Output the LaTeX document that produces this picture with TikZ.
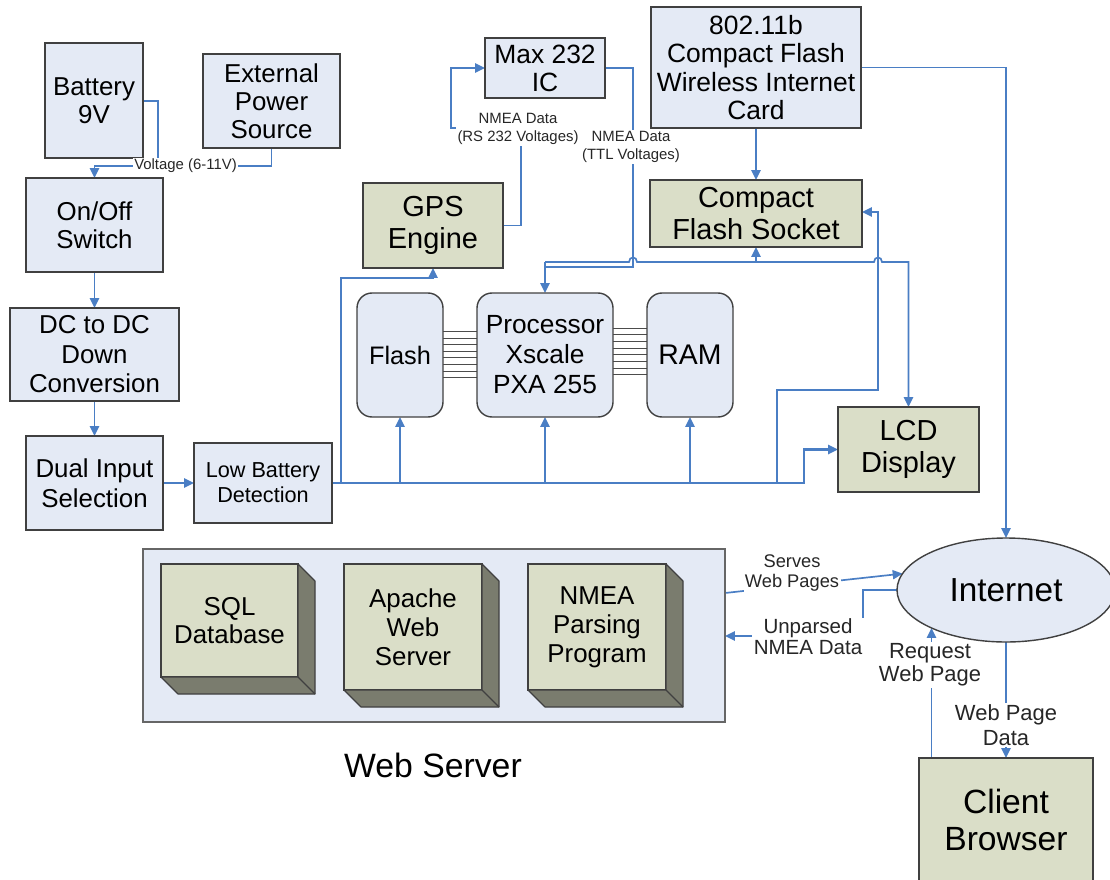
\documentclass[tikz,border=0pt]{standalone}
\usepackage{fontspec}
\setmainfont{Liberation Sans}
\usetikzlibrary{arrows.meta,shapes.geometric}
\definecolor{bluefill}{RGB}{228,234,245}
\definecolor{olivefill}{RGB}{218,222,200}
\definecolor{sidefill}{RGB}{122,124,110}
\definecolor{edge}{RGB}{64,64,64}
\definecolor{wire}{RGB}{74,126,196}
\pgfdeclarelayer{bg}
\pgfsetlayers{bg,main}
\newcommand\fs[2]{\fontsize{#1pt}{#2pt}\selectfont}
\newcommand\bx[7]{\node[#6, minimum width={(#4-#2)*0.025cm}, minimum height={(#5-#3)*0.025cm}] (#1) at ({(#2+#4)/2},{(#3+#5)/2}) {#7};}
\begin{document}
\begin{tikzpicture}[x=0.025cm,y=-0.025cm,
  base/.style={draw=edge, line width=1pt, inner sep=0pt, outer sep=0pt, align=center, text=black},
  bluebox/.style={base, fill=bluefill},
  olivebox/.style={base, fill=olivefill},
  roundbox/.style={bluebox, rounded corners=0.375cm},
  wirel/.style={draw=wire, line width=1.2pt},
  arr/.style={wirel, -{Triangle[length=7pt,width=6.5pt]}},
  busl/.style={draw=black!70, line width=0.7pt},
  lbl/.style={fill=white, inner sep=1pt, align=center, text=black!85},
  side/.style={fill=sidefill, draw=edge, line width=0.8pt, line join=round}]
\useasboundingbox (0,0) rectangle (1110,880);

% power chain
\bx{bat}{45}{43}{143}{158}{bluebox,font=\fs{18.4}{19.8}}{Battery\\9V}
\bx{ext}{203}{54}{340}{148}{bluebox,font=\fs{18.4}{19.8}}{External\\Power\\Source}
\bx{onoff}{26}{178}{163}{272}{bluebox,font=\fs{18.4}{19.8}}{On/Off\\Switch}
\bx{dcdc}{10}{308}{179}{401}{bluebox,font=\fs{18.4}{21}}{DC to DC\\Down\\Conversion}
\bx{dual}{26}{436}{163}{530}{bluebox,font=\fs{18.4}{21}}{Dual Input\\Selection}
\bx{lowbat}{194}{443}{332}{523}{bluebox,font=\fs{15.4}{17.7}}{Low Battery\\Detection}

% board
\bx{flash}{357}{293}{443}{417}{roundbox,font=\fs{18}{20}}{Flash}
\bx{proc}{477}{293}{613}{417}{roundbox,font=\fs{18.7}{21.3}}{Processor\\Xscale\\PXA 255}
\bx{ram}{647}{293}{733}{417}{roundbox,font=\fs{20.2}{22}}{RAM}
\bx{gps}{363}{183}{503}{268}{olivebox,font=\fs{20.6}{22.7}}{GPS\\Engine}
\bx{max}{485}{38}{605}{98}{bluebox,font=\fs{18.8}{19.8}}{Max 232\\IC}
\bx{wifi}{651}{7}{861}{128}{bluebox,font=\fs{18.8}{20}}{802.11b\\Compact Flash\\Wireless Internet\\Card}
\bx{cfs}{650}{180}{862}{247}{olivebox,font=\fs{20.6}{23.4}}{Compact\\Flash Socket}
\bx{lcd}{838}{407}{979}{492}{olivebox,font=\fs{20.6}{22.7}}{LCD\\Display}

% internet side
\node[bluebox, ellipse, minimum width={218*0.025cm}, minimum height={104*0.025cm}, font=\fs{23.7}{26}] (inet) at (1006,590) {Internet};
\node[olivebox, anchor=north, minimum width={174*0.025cm}, minimum height={124*0.025cm}, font=\fs{23.9}{26}] (client) at (1006,758) {Client\\Browser};

% web server
\bx{ws}{143}{549}{725}{722}{base,fill=bluefill,draw=black!60,line width=0.8pt}{}
\node[font=\fs{24}{26}] (wslabel) at (433,765) {Web Server};
\bx{sql}{161}{564}{298}{677}{olivebox,font=\fs{18.4}{19.8}}{SQL\\Database}
\bx{apache}{344}{564}{482}{690}{olivebox,font=\fs{18.4}{20.5}}{Apache\\Web\\Server}
\bx{nmea}{528}{564}{666}{690}{olivebox,font=\fs{18.4}{20.5}}{NMEA\\Parsing\\Program}
\foreach \b in {sql,apache,nmea}{
  \draw[side] (\b.north east) -- ++(17,17) -- ([shift={(17,17)}]\b.south east)
     -- ([shift={(17,17)}]\b.south west) -- (\b.south west) -- (\b.south east) -- cycle;
  \draw[side] (\b.south east) -- ++(17,17);
}

% labels
\node[lbl,font=\fs{10.6}{12}] (volt) at (185.5,166) {Voltage (6-11V)};
\node[lbl,font=\fs{10.6}{12.8}] (rs) at (518,129) {NMEA Data\\(RS 232 Voltages)};
\node[lbl,font=\fs{10.6}{12.8}] (ttl) at (631,147) {NMEA Data\\(TTL Voltages)};
\node[lbl,font=\fs{13}{14.2}] (serves) at (792,573) {Serves\\Web Pages};
\node[lbl,font=\fs{14.6}{15}] (unparsed) at (808,637) {Unparsed\\NMEA Data};
\node[lbl,font=\fs{15.6}{16.5}] (request) at (930,665) {Request\\Web Page};
\node[lbl,font=\fs{15.6}{17.5}] (wpd) at (1006,725) {Web Page\\Data};

\begin{pgfonlayer}{bg}
% power
\draw[arr] (bat.east |- 0,101) -| (158,166) -| (onoff.north);
\draw[wirel] (ext.south) |- (volt.east);
\draw[arr] (onoff.south) -- (dcdc.north);
\draw[arr] (dcdc.south) -- (dual.north);
\draw[arr] (dual.east) -- (lowbat.west);
% supply bus
\draw[arr, line width=1.6pt] (lowbat.east) -- (804,483) |- (lcd.west);
\draw[arr] (341,483) |- (433,278) -- (gps.south);
\draw[arr] (flash.south |- 0,483) -- (flash.south);
\draw[arr] (proc.south |- 0,483) -- (proc.south);
\draw[arr] (ram.south |- 0,483) -- (ram.south);
\draw[arr] (777,483) |- (878,390) |- (cfs.east |- 0,212);
% processor data lines
\draw[arr] (proc.north |- 0,262) -- (629,262) .. controls (629,256) and (637,256) .. (637,262)
   -- (874,262) .. controls (874,256) and (882,256) .. (882,262) -| (lcd.north);
\draw[arr] (cfs.south |- 0,262) -- (cfs.south);
\draw[arr] (proc.north |- 0,262) -- (proc.north);
\draw[wirel] (max.east) -| (633,267) -- (proc.north |- 0,267);
\draw[arr] (gps.east) -| (521,128) -| (451,68) -- (max.west);
\foreach \i [evaluate=\i as \y using 331.7+\i*6.57] in {0,...,7}
  \draw[busl] (flash.east |- 0,\y) -- (proc.west |- 0,\y);
\foreach \i [evaluate=\i as \y using 328+\i*6.7] in {0,...,7}
  \draw[busl] (proc.east |- 0,\y) -- (ram.west |- 0,\y);
% wireless
\draw[arr] (wifi.south) -- (cfs.north);
\draw[arr] (wifi.east) -| (inet.north);
% internet
\draw[arr] (ws.east |- 0,593) -- (inet.171);
\draw[arr] (inet.west) -| (863,636) -- (ws.east |- 0,636);
\draw[arr] (client.north -| inet.207) -- (inet.207);
\draw[arr] (inet.south) -- (client.north);
\end{pgfonlayer}
\end{tikzpicture}
\end{document}
